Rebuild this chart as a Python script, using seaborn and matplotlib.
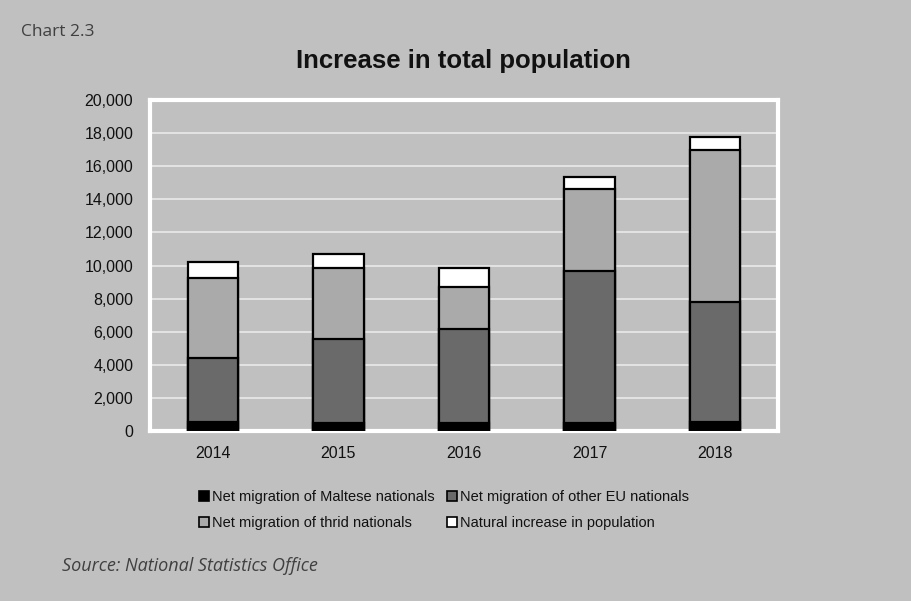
import matplotlib
matplotlib.use("Agg")
import matplotlib.pyplot as plt
import seaborn as sns
import numpy as np
import pandas as pd
from matplotlib.patches import Patch

years = ["2014", "2015", "2016", "2017", "2018"]
maltese = [560, 500, 460, 460, 530]
other_eu = [3830, 5060, 5700, 9190, 7260]
third = [4870, 4270, 2560, 4970, 9190]
natural = [970, 860, 1110, 710, 800]

series_names = ["Net migration of Maltese nationals",
                "Net migration of other EU nationals",
                "Net migration of thrid nationals",
                "Natural increase in population"]
series_vals = [maltese, other_eu, third, natural]
colors = ["#000000", "#6a6a6a", "#aaaaaa", "#ffffff"]
yticks = list(range(0, 20001, 2000))

sns.set_theme(style="white")
plt.rcParams['font.family'] = ['Liberation Sans', 'DejaVu Sans']

bg = "#c0c0c0"
fig = plt.figure(figsize=(9.11, 6.01), dpi=100, facecolor=bg)
W, H = 911, 601
ax = fig.add_axes([150 / W, (H - 431) / H, (778 - 150) / W, (431 - 100) / H])
ax.set_facecolor(bg)

cum = np.cumsum(np.array(series_vals), axis=0)
for i in range(len(series_vals) - 1, -1, -1):
    df = pd.DataFrame({"year": years, "value": cum[i]})
    sns.barplot(data=df, x="year", y="value", color=colors[i], saturation=1,
                width=0.4, edgecolor="black", linewidth=1.6, ax=ax, zorder=3)

ax.set_ylim(0, 20000)
ax.set_xlim(-0.5, 4.5)
ax.set_yticks(yticks)
ax.set_yticklabels([f"{v:,}" for v in yticks], fontsize=11.5, color="#111111")
ax.tick_params(axis="x", labelsize=11.5, colors="#111111", pad=11, length=0)
ax.tick_params(axis="y", length=0, pad=12)
ax.set_xlabel("")
ax.set_ylabel("")
ax.grid(axis="y", color="#e6e6e6", linewidth=1.3, zorder=0)
ax.set_axisbelow(True)
for s in ax.spines.values():
    s.set_visible(True)
    s.set_color("white")
    s.set_linewidth(3)

fig.text(463 / W, 1 - 61 / H, "Increase in total population", ha="center", va="center",
         fontsize=18.5, fontweight="bold", color="#111111")
fig.text(21 / W, 1 - 32 / H, "Chart 2.3", ha="left", va="center", fontsize=12.5,
         color="#404040", family=["Open Sans", "DejaVu Sans"])
fig.text(62 / W, 1 - 566 / H, "Source: National Statistics Office", ha="left", va="center",
         fontsize=13, style="italic", color="#404040", family=["Open Sans", "DejaVu Sans"])

handles = [Patch(facecolor=colors[i], edgecolor="black", linewidth=1.2, label=series_names[i])
           for i in range(4)]
order = [0, 2, 1, 3]
leg = fig.legend([handles[i] for i in order], [series_names[i] for i in order],
                 ncol=2, loc="center", bbox_to_anchor=(444 / W, 1 - 510 / H),
                 frameon=False, fontsize=10.5, handlelength=0.7, handleheight=0.7,
                 handletextpad=0.2, columnspacing=0.8, labelspacing=0.85)
for t in leg.get_texts():
    t.set_color("#111111")

fig.savefig("out.png", dpi=100, facecolor=bg)
